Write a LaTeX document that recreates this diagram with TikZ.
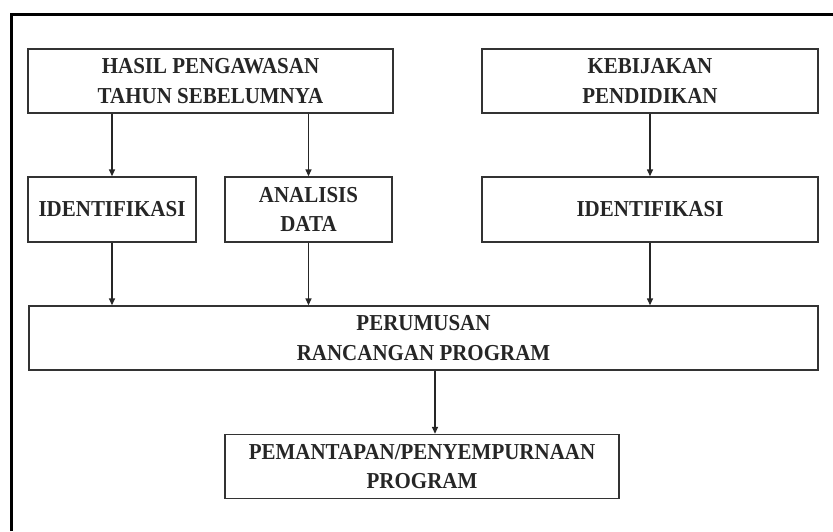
\documentclass[tikz,border=0pt]{standalone}
\usepackage{fontspec}
\setmainfont{Liberation Serif}[FakeStretch=0.92]
\usetikzlibrary{arrows.meta}

\tikzset{
  kotak/.style={draw=black!80, line width=1.4pt, rectangle, align=center,
    font=\bfseries\fontsize{22.8}{29.5}\selectfont, text=black!85, inner sep=0pt},
  panah/.style={-{Triangle[length=7pt,width=6pt]}, line width=1.4pt, draw=black!85}
}

\begin{document}
\begin{tikzpicture}[x=1pt, y=-1pt]
  \useasboundingbox (0,0) rectangle (833,531);
  \draw[line width=3pt] (11,531) -- (11,14) -- (833,14);

  \node[kotak, minimum width=365, minimum height=64] (hasil) at (210.5,81) {HASIL PENGAWASAN\\TAHUN SEBELUMNYA};
  \node[kotak, minimum width=336, minimum height=64] (kebijakan) at (650,81) {KEBIJAKAN\\PENDIDIKAN};
  \node[kotak, minimum width=168, minimum height=65] (identL) at (112,209.5) {IDENTIFIKASI};
  \node[kotak, minimum width=167, minimum height=65] (analisis) at (308.5,209.5) {ANALISIS\\DATA};
  \node[kotak, minimum width=336, minimum height=65] (identR) at (650,209.5) {IDENTIFIKASI};
  \node[kotak, minimum width=789, minimum height=64] (rumusan) at (423.5,338) {PERUMUSAN\\RANCANGAN PROGRAM};
  \node[kotak, minimum width=394, minimum height=64] (mantap) at (422,466.5) {PEMANTAPAN/PENYEMPURNAAN\\PROGRAM};

  \draw[panah] (hasil.south -| identL) -- (identL);
  \draw[panah] (hasil.south -| analisis) -- (analisis);
  \draw[panah] (kebijakan) -- (identR);
  \draw[panah] (identL) -- (identL |- rumusan.north);
  \draw[panah] (analisis) -- (analisis |- rumusan.north);
  \draw[panah] (identR) -- (identR |- rumusan.north);
  \draw[panah] ([xshift=11.5pt]rumusan.south) -- ([xshift=11.5pt]rumusan.south |- mantap.north);
\end{tikzpicture}
\end{document}
